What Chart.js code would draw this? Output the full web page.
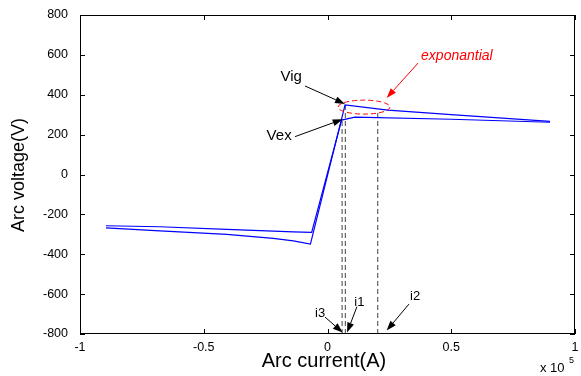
<!DOCTYPE html>
<html>
<head>
<meta charset="utf-8">
<script src="https://cdn.jsdelivr.net/npm/chart.js@4.4.0/dist/chart.umd.min.js"></script>
<style>
body { margin: 0; background: #fff; }
canvas { display: block; }
</style>
</head>
<body>
<canvas id="myChart" width="581" height="376"></canvas>
<script>
// arc current in units of 1e5 A, arc voltage in V
const vigCurrent = [-0.895, -0.677, -0.407, -0.219, -0.138, -0.069, 0.071, 0.244, 0.50, 0.899];
const vigVoltage = [-268, -283, -300, -320, -333, -349, 349, 323, 300, 266];
const vexCurrent = [-0.895, -0.677, -0.407, -0.138, -0.064, 0.057, 0.111, 0.50, 0.899];
const vexVoltage = [-257, -262, -275, -288, -290, 273, 288, 277, 262];
// dashed markers i3, i1, i2
const markCurrent = [0.059, 0.072, 0.203];
const markVoltage = [273, 349, 318];
const xTicks = [-1, -0.5, 0, 0.5, 1];
const yTicks = [-800, -600, -400, -200, 0, 200, 400, 600, 800];

const FONT = '"Liberation Sans", Arial, sans-serif';

// annotations (data coordinates)
const labels = [
    { text: 'Vig', x: -0.190, y: 489, align: 'left', color: '#000', font: '15px ' + FONT },
    { text: 'Vex', x: -0.246, y: 193, align: 'left', color: '#000', font: '15px ' + FONT },
    { text: 'exponantial', x: 0.378, y: 596, align: 'left', color: '#ff0000', font: 'italic 14px ' + FONT },
    { text: 'i3', x: -0.030, y: -695, align: 'center', color: '#000', font: '13px ' + FONT },
    { text: 'i1', x: 0.129, y: -643, align: 'center', color: '#000', font: '13px ' + FONT },
    { text: 'i2', x: 0.354, y: -613, align: 'center', color: '#000', font: '13px ' + FONT }
];
const arrows = [
    { from: [-0.091, 444], to: [0.0707, 354], color: '#000' },
    { from: [-0.131, 190], to: [0.0614, 277], color: '#000' },
    { from: [0.366, 559], to: [0.239, 384], color: '#ff0000' },
    { from: [-0.010, -715], to: [0.0614, -793], color: '#000' },
    { from: [0.119, -663], to: [0.079, -793], color: '#000' },
    { from: [0.329, -650], to: [0.239, -783], color: '#000' }
];
const ellipse = { x: 0.1475, y: 338, rx: 0.105, ry: 35 };

function toPoints(xs, ys) {
    return xs.map((x, i) => ({ x: x, y: ys[i] }));
}

function drawArrow(ctx, x1, y1, x2, y2, color) {
    const ang = Math.atan2(y2 - y1, x2 - x1);
    const len = 10, hw = 3.5;
    const bx = x2 - len * Math.cos(ang), by = y2 - len * Math.sin(ang);
    ctx.strokeStyle = color;
    ctx.fillStyle = color;
    ctx.lineWidth = 1;
    ctx.beginPath();
    ctx.moveTo(x1, y1);
    ctx.lineTo(bx, by);
    ctx.stroke();
    ctx.beginPath();
    ctx.moveTo(x2, y2);
    ctx.lineTo(bx + hw * Math.sin(ang), by - hw * Math.cos(ang));
    ctx.lineTo(bx - hw * Math.sin(ang), by + hw * Math.cos(ang));
    ctx.closePath();
    ctx.fill();
}

const annotatePlugin = {
    id: 'annotate',
    afterDatasetsDraw(chart) {
        const ctx = chart.ctx;
        const xs = chart.scales.x, ys = chart.scales.y;
        ctx.save();
        // red dashed ellipse
        const cx = xs.getPixelForValue(ellipse.x), cy = ys.getPixelForValue(ellipse.y);
        const rx = Math.abs(xs.getPixelForValue(ellipse.x + ellipse.rx) - cx);
        const ry = Math.abs(ys.getPixelForValue(ellipse.y + ellipse.ry) - cy);
        ctx.strokeStyle = '#ff0000';
        ctx.lineWidth = 1;
        ctx.setLineDash([5, 3]);
        ctx.beginPath();
        ctx.ellipse(cx, cy, rx, ry, 0, 0, Math.PI * 2);
        ctx.stroke();
        ctx.setLineDash([]);
        arrows.forEach(a => {
            drawArrow(ctx,
                xs.getPixelForValue(a.from[0]), ys.getPixelForValue(a.from[1]),
                xs.getPixelForValue(a.to[0]), ys.getPixelForValue(a.to[1]), a.color);
        });
        ctx.textBaseline = 'middle';
        labels.forEach(l => {
            ctx.font = l.font;
            ctx.fillStyle = l.color;
            ctx.textAlign = l.align;
            ctx.fillText(l.text, xs.getPixelForValue(l.x), ys.getPixelForValue(l.y));
        });
        ctx.restore();
    },
    afterDraw(chart) {
        const ctx = chart.ctx;
        const a = chart.chartArea;
        const xs = chart.scales.x, ys = chart.scales.y;
        ctx.save();
        ctx.strokeStyle = '#000';
        ctx.lineWidth = 1;
        ctx.strokeRect(a.left + 0.5, a.top + 0.5, a.right - a.left - 1, a.bottom - a.top - 1);
        ctx.beginPath();
        yTicks.forEach(v => {
            const p = Math.round(ys.getPixelForValue(v)) + 0.5;
            ctx.moveTo(a.left, p); ctx.lineTo(a.left + 5, p);
            ctx.moveTo(a.right, p); ctx.lineTo(a.right - 5, p);
        });
        xTicks.forEach(v => {
            const p = Math.round(xs.getPixelForValue(v)) + 0.5;
            ctx.moveTo(p, a.bottom); ctx.lineTo(p, a.bottom - 5);
            ctx.moveTo(p, a.top); ctx.lineTo(p, a.top + 5);
        });
        ctx.stroke();
        // axis titles
        ctx.fillStyle = '#000';
        ctx.textAlign = 'center';
        ctx.textBaseline = 'middle';
        ctx.font = '20px ' + FONT;
        ctx.fillText('Arc current(A)', 324, 361);
        ctx.save();
        ctx.translate(19, 175);
        ctx.rotate(-Math.PI / 2);
        ctx.font = '18px ' + FONT;
        ctx.fillText('Arc voltage(V)', 0, 0);
        ctx.restore();
        // exponent
        ctx.textAlign = 'left';
        ctx.font = '13px ' + FONT;
        ctx.fillText('x 10', 540, 368);
        ctx.font = '9px ' + FONT;
        ctx.fillText('5', 569, 361);
        ctx.restore();
    }
};

new Chart(document.getElementById('myChart'), {
    type: 'scatter',
    data: {
        datasets: [
            {
                data: toPoints(vigCurrent, vigVoltage),
                showLine: true,
                borderColor: '#0000ff',
                borderWidth: 1.2,
                pointRadius: 0
            },
            {
                data: toPoints(vexCurrent, vexVoltage),
                showLine: true,
                borderColor: '#0000ff',
                borderWidth: 1.2,
                pointRadius: 0
            },
            ...markCurrent.map((x, i) => ({
                data: [{ x: x, y: -800 }, { x: x, y: markVoltage[i] }],
                showLine: true,
                borderColor: '#444',
                borderWidth: 1,
                borderDash: [5, 3],
                pointRadius: 0
            }))
        ]
    },
    options: {
        responsive: false,
        animation: false,
        layout: { padding: { left: 0, top: 15, right: 6, bottom: 0 } },
        plugins: {
            legend: { display: false },
            tooltip: { enabled: false }
        },
        scales: {
            x: {
                type: 'linear',
                min: -1,
                max: 1,
                afterFit: scale => {
                    scale.height = 42;
                    scale.paddingLeft = 0;
                    scale.paddingRight = 0;
                },
                afterBuildTicks: scale => { scale.ticks = xTicks.map(v => ({ value: v })); },
                grid: { display: false, drawTicks: false, tickLength: 0 },
                border: { display: false },
                ticks: {
                    autoSkip: false,
                    maxRotation: 0,
                    padding: 6,
                    color: '#000',
                    font: { family: FONT, size: 12.5 },
                    callback: v => String(v)
                }
            },
            y: {
                type: 'linear',
                min: -800,
                max: 800,
                afterFit: scale => {
                    scale.width = 80;
                    scale.paddingTop = 0;
                    scale.paddingBottom = 0;
                },
                afterBuildTicks: scale => { scale.ticks = yTicks.map(v => ({ value: v })); },
                grid: { display: false, drawTicks: false, tickLength: 0 },
                border: { display: false },
                ticks: {
                    autoSkip: false,
                    padding: 12,
                    color: '#000',
                    font: { family: FONT, size: 12.5 },
                    callback: v => String(v)
                }
            }
        }
    },
    plugins: [annotatePlugin]
});
</script>
</body>
</html>
